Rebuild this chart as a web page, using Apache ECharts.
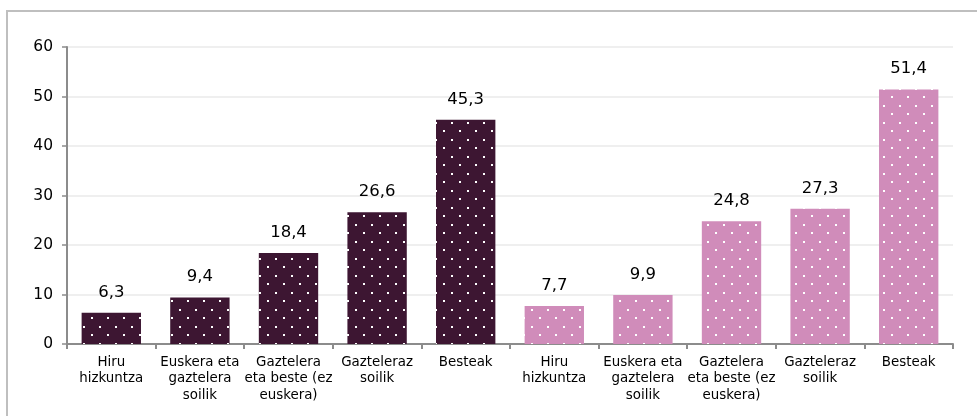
<!DOCTYPE html>
<html>
<head>
<meta charset="utf-8">
<script src="https://cdn.jsdelivr.net/npm/echarts@6/dist/echarts.min.js"></script>
<style>
  html, body { margin: 0; padding: 0; background: #fff; }
  #chart { width: 977px; height: 416px; }
</style>
</head>
<body>
<div id="chart"></div>
<script>
// categories (two groups of five)
const categories = [
  'Hiru\nhizkuntza',
  'Euskera eta\ngaztelera\nsoilik',
  'Gaztelera\neta beste (ez\neuskera)',
  'Gazteleraz\nsoilik',
  'Besteak',
  'Hiru\nhizkuntza',
  'Euskera eta\ngaztelera\nsoilik',
  'Gaztelera\neta beste (ez\neuskera)',
  'Gazteleraz\nsoilik',
  'Besteak'
];
const values = [6.3, 9.4, 18.4, 26.6, 45.3, 7.7, 9.9, 24.8, 27.3, 51.4];
const groupOf = [0, 0, 0, 0, 0, 1, 1, 1, 1, 1];
const yTicks = [0, 10, 20, 30, 40, 50, 60];

const baseColors = ['#3d1632', '#d08cba'];

// dotted fill like the original
function dotPattern(bg) {
  const c = document.createElement('canvas');
  c.width = 16;
  c.height = 17;
  const ctx = c.getContext('2d');
  ctx.fillStyle = bg;
  ctx.fillRect(0, 0, 16, 17);
  ctx.fillStyle = '#ffffff';
  ctx.fillRect(3, 3, 2, 2);
  ctx.fillRect(11, 11, 2, 2);
  return c;
}
const patterns = baseColors.map(col => ({ image: dotPattern(col), repeat: 'repeat' }));

const chart = echarts.init(document.getElementById('chart'));

const option = {
  animation: false,
  textStyle: { fontFamily: 'DejaVu Sans' },
  graphic: [{
    type: 'rect',
    shape: { x: 7, y: 11, width: 1100, height: 500 },
    style: { fill: 'none', stroke: '#bfbfbf', lineWidth: 2 },
    z: 0
  }],
  grid: { left: 67, right: 24, top: 47, bottom: 72, containLabel: false },
  xAxis: {
    type: 'category',
    data: categories,
    axisLine: { lineStyle: { color: '#8c8c8c', width: 2 } },
    axisTick: { show: true, length: 5, lineStyle: { color: '#8c8c8c', width: 2 } },
    axisLabel: {
      color: '#000',
      fontSize: 13.4,
      lineHeight: 16.5,
      margin: 10,
      interval: 0
    }
  },
  yAxis: {
    type: 'value',
    min: yTicks[0],
    max: yTicks[yTicks.length - 1],
    interval: 10,
    axisLine: { show: true, lineStyle: { color: '#8c8c8c', width: 2 } },
    axisTick: { show: true, length: 5, lineStyle: { color: '#8c8c8c', width: 1.5 } },
    axisLabel: { color: '#000', fontSize: 15.5, margin: 14 },
    splitLine: { show: true, lineStyle: { color: '#efefef', width: 2 } }
  },
  series: [{
    type: 'bar',
    barWidth: '67%',
    data: values.map((v, i) => ({
      value: v,
      itemStyle: { color: patterns[groupOf[i]] }
    })),
    label: {
      show: true,
      position: 'top',
      distance: 12,
      color: '#000',
      fontSize: 16.5,
      formatter: p => String(p.value).replace('.', ',')
    }
  }]
};

chart.setOption(option);
</script>
</body>
</html>
